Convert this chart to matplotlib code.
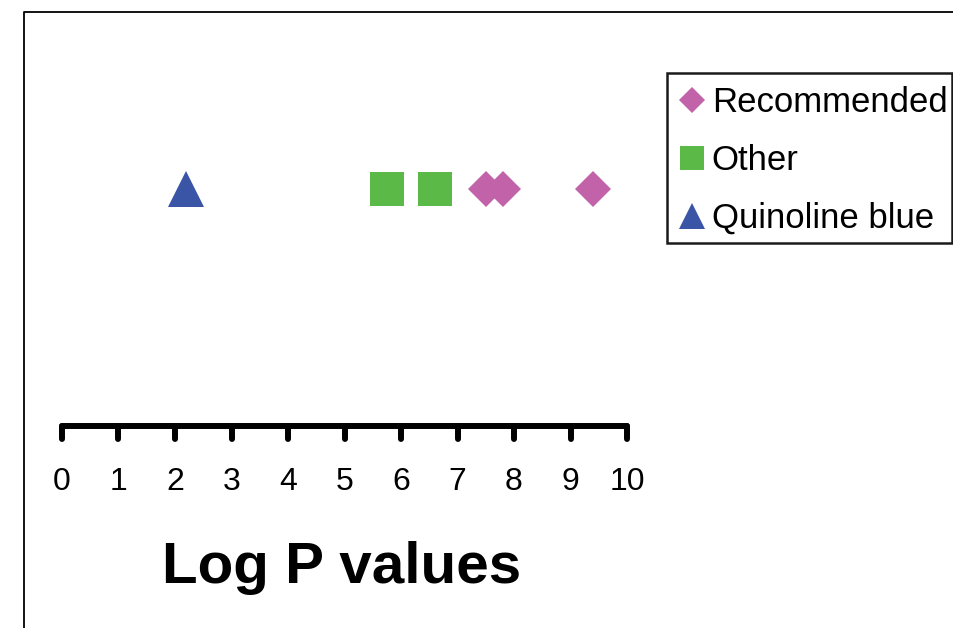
import matplotlib
matplotlib.use("Agg")
import matplotlib.pyplot as plt
from matplotlib.lines import Line2D
from matplotlib.patches import Rectangle
from matplotlib.markers import MarkerStyle, TICKDOWN

plt.rcParams['font.family'] = ['Liberation Sans', 'DejaVu Sans']

# Log P values per group
recommended = [7.5, 7.8, 9.4]
other = [5.75, 6.6]
quinoline_blue = [2.2]

tick_values = list(range(0, 11))
tick_labels = [str(v) for v in tick_values]

W, H = 954, 628
fig = plt.figure(figsize=(W / 100, H / 100), dpi=100)

# outer frame (top and left edges)
fig.add_artist(Line2D([24 / W, 24 / W, 1.0], [0.0, 1 - 12 / H, 1 - 12 / H],
                      transform=fig.transFigure, color='black', lw=1.3))

ax = fig.add_axes([62 / W, (H - 426) / H, (627 - 62) / W, (426 - 20) / H])
ax.set_xlim(0, 10)
ax.set_ylim(0, 1)
row = 0.584

style = dict(linestyle='none', markeredgewidth=0, clip_on=False)
ax.plot(recommended, [row] * len(recommended), marker='D', markersize=18.3,
        color='#C262A8', label='Recommended', **style)
ax.plot(other, [row] * len(other), marker='s', markersize=23.8,
        color='#5BB947', label='Other', **style)
ax.plot(quinoline_blue, [row] * len(quinoline_blue), marker='^', markersize=26.6,
        color='#3A55A6', label='Quinoline blue', **style)

for side in ('top', 'right', 'left'):
    ax.spines[side].set_visible(False)
ax.spines['bottom'].set_linewidth(4.3)
ax.spines['bottom'].set_capstyle('round')
ax.set_yticks([])
ax.set_xticks(tick_values)
ax.set_xticklabels(tick_labels, fontsize=23)
ax.tick_params(axis='x', direction='out', length=9.5, width=4.3, pad=20)
for t in ax.xaxis.get_major_ticks():
    t.tick1line.set_marker(MarkerStyle(TICKDOWN, capstyle='round'))

fig.text(342 / W, 1 - 583 / H, 'Log P values', ha='center', va='baseline',
         fontsize=42, fontweight='bold')

# legend box
fig.add_artist(Rectangle((667 / W, 1 - 243 / H), (952 - 667) / W, (243 - 73) / H,
                         transform=fig.transFigure, facecolor='white',
                         edgecolor='#1a1a1a', lw=1.8, zorder=4))
leg = fig.legend(loc='upper left', bbox_to_anchor=(679 / W, 1 - 86 / H),
                 fontsize=25, markerscale=0.72, frameon=False,
                 borderaxespad=0, borderpad=0,
                 handlelength=0.72, handletextpad=0.22, labelspacing=0.72,
                 numpoints=1)
leg.set_zorder(5)

fig.savefig('out.png', dpi=100)
